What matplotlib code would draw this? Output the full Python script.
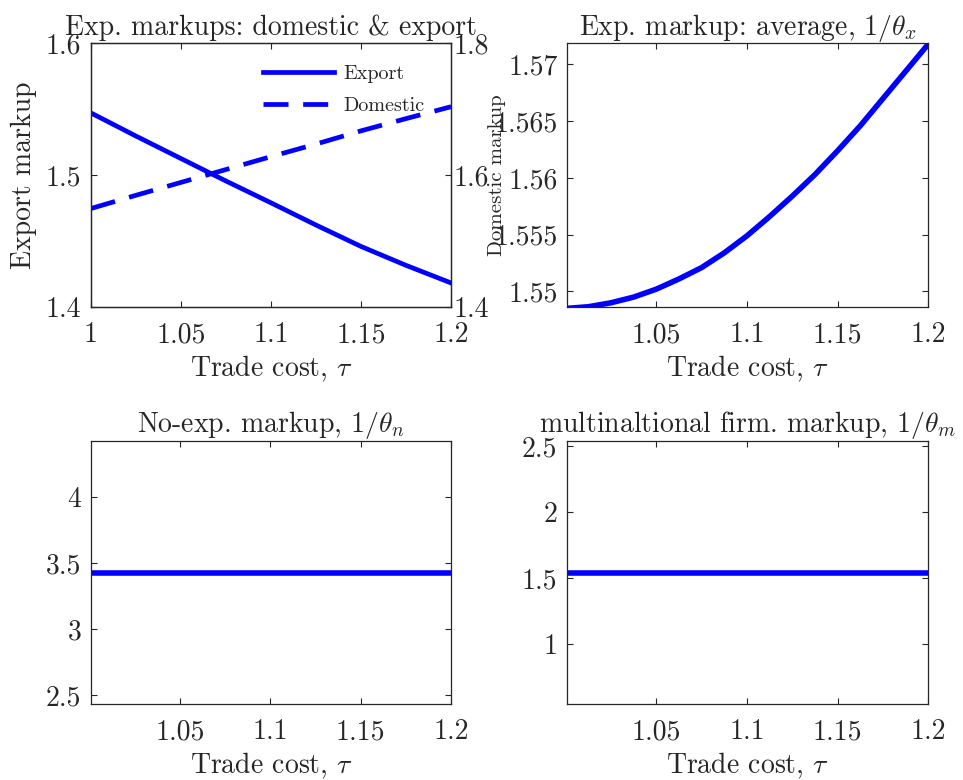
import matplotlib
matplotlib.use('Agg')
import matplotlib.pyplot as plt
from matplotlib.ticker import FormatStrFormatter

plt.rcParams['font.family'] = ['cmr10', 'DejaVu Serif']
plt.rcParams['mathtext.fontset'] = 'cm'
plt.rcParams['axes.unicode_minus'] = False
plt.rcParams['axes.formatter.use_mathtext'] = True

# trade cost grid
tau = [1.0, 1.025, 1.05, 1.075, 1.1, 1.125, 1.15, 1.175, 1.2]
tau_fine = [1.0, 1.0125, 1.025, 1.0375, 1.05, 1.0625, 1.075, 1.0875, 1.1,
            1.1125, 1.125, 1.1375, 1.15, 1.1625, 1.175, 1.1875, 1.2]

# markups
export_mk = [1.547, 1.5295, 1.5125, 1.4955, 1.479, 1.4622, 1.446, 1.4317, 1.4184]
domestic_mk = [1.5495, 1.5695, 1.589, 1.6085, 1.628, 1.647, 1.667, 1.6855, 1.7035]
average_mk = [1.5485, 1.54865, 1.5490, 1.5495, 1.5502, 1.5511, 1.5521, 1.5534, 1.5549,
              1.5566, 1.5584, 1.5603, 1.5624, 1.5646, 1.5670, 1.5694, 1.5718]
noexp_mk = [3.429] * len(tau)
multi_mk = [1.543] * len(tau)

xticks_full = [1.0, 1.05, 1.1, 1.15, 1.2]
xticks_part = [1.05, 1.1, 1.15, 1.2]

blue = '#0000ff'
gray = '#262626'
fs = 20
lw = 3.4

fig = plt.figure(figsize=(9.63, 7.8), dpi=100)
ax1 = fig.add_axes([0.0945, 0.606, 0.374, 0.339])
ax2 = fig.add_axes([0.589, 0.606, 0.375, 0.339])
ax3 = fig.add_axes([0.0945, 0.097, 0.374, 0.338])
ax4 = fig.add_axes([0.589, 0.097, 0.375, 0.338])


def style(ax, right=True):
    ax.tick_params(direction='in', length=4, width=0.8, labelsize=fs,
                   colors=gray, top=True, right=right, pad=7)
    ax.tick_params(axis='x', pad=10.5)
    for s in ax.spines.values():
        s.set_color(gray)
        s.set_linewidth(0.9)


# top-left: export and domestic markups
ax1.plot(tau, export_mk, color=blue, lw=lw, label='Export')
ax1b = ax1.twinx()
ax1b.plot(tau, domestic_mk, color=blue, lw=lw, dashes=(5.3, 3.1), label='Domestic')
ax1.set_xlim(1.0, 1.2)
ax1.set_ylim(1.4, 1.6)
ax1b.set_ylim(1.4, 1.8)
ax1.set_xticks(xticks_full)
ax1.set_xticklabels(['1', '1.05', '1.1', '1.15', '1.2'])
ax1.set_yticks([1.4, 1.5, 1.6])
ax1.yaxis.set_major_formatter(FormatStrFormatter('%g'))
ax1b.set_yticks([1.4, 1.6, 1.8])
ax1b.yaxis.set_major_formatter(FormatStrFormatter('%g'))
style(ax1, right=False)
style(ax1b)
ax1b.tick_params(axis='y', left=False, pad=2)
ax1b.tick_params(axis='x', top=False, bottom=False, labelbottom=False)
ax1.set_title('Exp. markups: domestic & export', fontsize=fs, color=gray, pad=6)
ax1.set_xlabel(r'Trade cost, $\tau$', fontsize=fs, color=gray, labelpad=4)
ax1.set_ylabel('Export markup', fontsize=fs, color=gray, labelpad=6)
ax1b.set_ylabel('Domestic markup', fontsize=15, color=gray)
ax1b.yaxis.set_label_coords(1.128, 0.5)
ax1b.yaxis.label.set_va('center')
h1, l1 = ax1.get_legend_handles_labels()
h2, l2 = ax1b.get_legend_handles_labels()
ax1b.legend(h1 + h2, l1 + l2, loc='upper right', bbox_to_anchor=(0.975, 0.985),
            frameon=False, fontsize=14.5, handlelength=3.5, handletextpad=0.45,
            labelspacing=0.7, labelcolor=gray)

# top-right: average exporter markup
ax2.plot(tau_fine, average_mk, color=blue, lw=lw + 0.6)
ax2.set_xlim(1.0009, 1.2)
ax2.set_ylim(1.5486, 1.5719)
ax2.set_xticks(xticks_part)
ax2.set_xticklabels(['1.05', '1.1', '1.15', '1.2'])
ax2.set_yticks([1.55, 1.555, 1.56, 1.565, 1.57])
ax2.yaxis.set_major_formatter(FormatStrFormatter('%g'))
style(ax2)
ax2.set_title(r'Exp. markup: average, $1/\theta_x$', fontsize=fs, color=gray, pad=6)
ax2.set_xlabel(r'Trade cost, $\tau$', fontsize=fs, color=gray, labelpad=4)

# bottom-left: non-exporter markup
ax3.plot(tau, noexp_mk, color=blue, lw=lw + 0.6)
ax3.set_xlim(1.0008, 1.2)
ax3.set_ylim(noexp_mk[0] - 1, noexp_mk[0] + 1)
ax3.set_xticks(xticks_part)
ax3.set_xticklabels(['1.05', '1.1', '1.15', '1.2'])
ax3.set_yticks([2.5, 3, 3.5, 4])
ax3.yaxis.set_major_formatter(FormatStrFormatter('%g'))
style(ax3)
ax3.set_title(r'No-exp. markup, $1/\theta_n$', fontsize=fs, color=gray, pad=6)
ax3.set_xlabel(r'Trade cost, $\tau$', fontsize=fs, color=gray, labelpad=4)

# bottom-right: multinational markup
ax4.plot(tau, multi_mk, color=blue, lw=lw + 0.6)
ax4.set_xlim(1.0008, 1.2)
ax4.set_ylim(multi_mk[0] - 1, multi_mk[0] + 1)
ax4.set_xticks(xticks_part)
ax4.set_xticklabels(['1.05', '1.1', '1.15', '1.2'])
ax4.set_yticks([1, 1.5, 2, 2.5])
ax4.yaxis.set_major_formatter(FormatStrFormatter('%g'))
style(ax4)
ax4.set_title(r'multinaltional firm. markup, $1/\theta_m$', fontsize=fs, color=gray, pad=6)
ax4.set_xlabel(r'Trade cost, $\tau$', fontsize=fs, color=gray, labelpad=4)

fig.savefig('out.png', dpi=100)
